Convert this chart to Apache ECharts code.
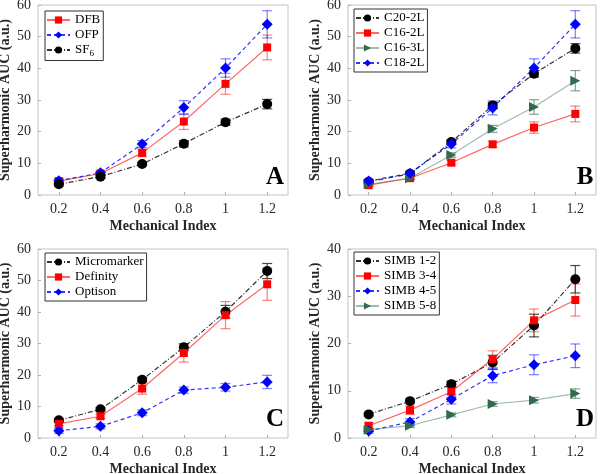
<!DOCTYPE html>
<html>
<head>
    <meta charset="utf-8">
    <title>Superharmonic AUC</title>
    <script src="https://cdn.jsdelivr.net/npm/echarts@6/dist/echarts.min.js"></script>
</head>
<body style="margin:0">
    <div id="main" style="width:600px;height:474px;"></div>
    <script type="text/javascript">
        // data
        var mi = [0.2, 0.4, 0.6, 0.8, 1.0, 1.2];
        var xTicks = [0.2, 0.4, 0.6, 0.8, 1.0, 1.2];

        // panel A
        var dfb = [4.4, 6.8, 13.3, 23.2, 35.1, 46.6];
        var dfbErr = [0.7, 0.6, 1.2, 2.5, 3.3, 3.9];
        var ofp = [4.5, 7.0, 16.1, 27.6, 40.1, 53.9];
        var ofpErr = [0.6, 0.6, 1.1, 2.2, 2.9, 4.3];
        var sf6 = [3.4, 5.8, 9.8, 16.2, 23.0, 28.7];
        var sf6Err = [0.5, 0.5, 0.5, 1.0, 1.0, 1.5];

        // panel B
        var c202l = [4.2, 6.7, 16.7, 28.3, 38.3, 46.3];
        var c202lErr = [0.5, 0.5, 0.6, 0.9, 1.0, 1.5];
        var c162l = [3.1, 5.3, 10.2, 16.0, 21.3, 25.6];
        var c162lErr = [0.4, 0.4, 0.7, 0.9, 1.8, 2.5];
        var c163l = [3.4, 5.3, 12.6, 20.9, 27.8, 36.1];
        var c163lErr = [0.4, 0.5, 0.7, 1.1, 2.3, 3.2];
        var c182l = [4.4, 6.9, 16.1, 27.5, 40.1, 53.9];
        var c182lErr = [0.6, 0.6, 1.2, 2.2, 2.9, 4.3];

        // panel C
        var micro = [5.6, 9.1, 18.5, 28.8, 40.1, 53.0];
        var microErr = [0.5, 0.5, 0.7, 1.1, 2.0, 2.4];
        var defin = [4.5, 6.9, 15.7, 27.0, 39.0, 48.8];
        var definErr = [0.6, 0.7, 1.8, 2.9, 4.3, 5.1];
        var optis = [2.3, 3.7, 8.0, 15.2, 16.1, 17.8];
        var optisErr = [0.8, 0.8, 0.9, 1.0, 1.2, 2.1];

        // panel D
        var simb12 = [5.0, 7.8, 11.4, 16.0, 23.8, 33.6];
        var simb12Err = [0.3, 0.4, 0.6, 1.5, 2.4, 2.9];
        var simb34 = [2.6, 5.9, 9.8, 16.7, 24.9, 29.2];
        var simb34Err = [0.6, 0.9, 1.2, 1.75, 2.4, 3.4];
        var simb45 = [1.5, 3.4, 8.2, 13.2, 15.5, 17.4];
        var simb45Err = [0.5, 0.7, 1.0, 1.5, 2.1, 2.5];
        var simb58 = [1.75, 2.6, 4.9, 7.2, 8.0, 9.4];
        var simb58Err = [0.3, 0.4, 0.4, 0.5, 0.6, 1.0];

        var serif = "'Liberation Serif', serif";
        var RED = '#ff0000', BLUE = '#0000ff', BLACK = '#000000', GREEN = '#2f6b4c';
        var DASHDOT = [5, 2, 1, 2];

        // series styles
        var sty = {
            red:   {color: RED, symbol: 'rect', size: 8, dash: 'solid', lineOp: 0.6, errOp: 0.5},
            blue:  {color: BLUE, symbol: 'diamond', size: 11, dash: [4, 3], lineOp: 0.8, errOp: 0.5},
            black: {color: BLACK, symbol: 'circle', size: 10, dash: DASHDOT, lineOp: 0.8, errOp: 0.7},
            green: {color: GREEN, symbol: 'triangle', size: 10, dash: 'solid', lineOp: 0.45, errOp: 0.6}
        };

        var panels = [
            {letter: 'A', grid: {left: 38, right: 312, top: 5, bottom: 279}, ymax: 60,
             legend: {left: 45, top: 11}, lx: 275, ly: 178,
             lines: [['DFB', dfb, dfbErr, 'red'], ['OFP', ofp, ofpErr, 'blue'], ['SF6', sf6, sf6Err, 'black']]},
            {letter: 'B', grid: {left: 348, right: 4, top: 5, bottom: 279}, ymax: 60,
             legend: {left: 354, top: 9}, lx: 585, ly: 178,
             lines: [['C20-2L', c202l, c202lErr, 'black'], ['C16-2L', c162l, c162lErr, 'red'],
                     ['C16-3L', c163l, c163lErr, 'green'], ['C18-2L', c182l, c182lErr, 'blue']]},
            {letter: 'C', grid: {left: 38, right: 312, top: 249, bottom: 36}, ymax: 60,
             legend: {left: 45, top: 253}, lx: 275, ly: 420,
             lines: [['Micromarker', micro, microErr, 'black'], ['Definity', defin, definErr, 'red'],
                     ['Optison', optis, optisErr, 'blue']]},
            {letter: 'D', grid: {left: 348, right: 4, top: 249, bottom: 36}, ymax: 40,
             legend: {left: 354, top: 252}, lx: 585, ly: 420,
             lines: [['SIMB 1-2', simb12, simb12Err, 'black'], ['SIMB 3-4', simb34, simb34Err, 'red'],
                     ['SIMB 4-5', simb45, simb45Err, 'blue'], ['SIMB 5-8', simb58, simb58Err, 'green']]}
        ];

        var grids = [], xAxes = [], yAxes = [], legends = [], series = [], graphics = [];

        panels.forEach(function (p, i) {
            grids.push(Object.assign({show: true, borderColor: '#c4c4c4', borderWidth: 1,
                                      backgroundColor: '#fff', containLabel: false,
                                      outerBoundsMode: 'none'}, p.grid));
            xAxes.push({
                type: 'value', gridIndex: i, min: 0.1, max: 1.3,
                name: 'Mechanical Index', nameLocation: 'middle', nameGap: 24,
                nameTextStyle: {fontFamily: serif, fontWeight: 'bold', fontSize: 14, color: '#262626'},
                axisLine: {show: false},
                axisTick: {show: true, inside: true, length: 3, customValues: xTicks,
                           lineStyle: {color: '#b0b0b0'}},
                splitLine: {show: false},
                axisLabel: {customValues: xTicks, fontFamily: serif, fontSize: 14, color: '#262626', margin: 7,
                            formatter: function (v) { return String(+v.toFixed(1)); }}
            });
            yAxes.push({
                type: 'value', gridIndex: i, min: 0, max: p.ymax, interval: 10,
                name: 'Superharmonic AUC (a.u.)', nameLocation: 'middle', nameGap: 26,
                nameTextStyle: {fontFamily: serif, fontWeight: 'bold', fontSize: 14, color: '#262626'},
                axisLine: {show: false},
                axisTick: {show: true, inside: true, length: 3, lineStyle: {color: '#b0b0b0'}},
                splitLine: {show: false},
                axisLabel: {fontFamily: serif, fontSize: 14, color: '#262626', margin: 7}
            });
            legends.push({
                left: p.legend.left, top: p.legend.top, orient: 'vertical',
                data: p.lines.map(function (l) { return l[0]; }),
                backgroundColor: '#fff', borderColor: '#333', borderWidth: 1,
                padding: [2, 3, 2, 1], itemGap: 1, itemWidth: 23, itemHeight: 9,
                selectedMode: false,
                textStyle: {fontFamily: serif, fontSize: 13, color: '#000', lineHeight: 14,
                            rich: {sub: {fontFamily: serif, fontSize: 9, padding: [8, 0, 0, 0]}}},
                formatter: function (name) { return name === 'SF6' ? 'SF{sub|6}' : name; }
            });
            p.lines.forEach(function (l) {
                var s = sty[l[3]];
                var pts = mi.map(function (x, k) { return [x, l[1][k]]; });
                var errPts = mi.map(function (x, k) { return [x, l[1][k], l[2][k]]; });
                series.push({
                    type: 'custom', name: l[0] + ' err', xAxisIndex: i, yAxisIndex: i,
                    data: errPts, silent: true, z: 2,
                    renderItem: function (params, api) {
                        var x = api.value(0), y = api.value(1), e = api.value(2);
                        var top = api.coord([x, y + e]), bot = api.coord([x, y - e]);
                        var w = 5;
                        var st = {stroke: s.color, lineWidth: 1.2, opacity: s.errOp};
                        return {type: 'group', children: [
                            {type: 'line', shape: {x1: top[0], y1: top[1], x2: bot[0], y2: bot[1]}, style: st},
                            {type: 'line', shape: {x1: top[0] - w, y1: top[1], x2: top[0] + w, y2: top[1]}, style: st},
                            {type: 'line', shape: {x1: bot[0] - w, y1: bot[1], x2: bot[0] + w, y2: bot[1]}, style: st}
                        ]};
                    }
                });
                series.push({
                    type: 'line', name: l[0], xAxisIndex: i, yAxisIndex: i, data: pts,
                    symbol: s.symbol, symbolSize: s.size, symbolRotate: s.symbol === 'triangle' ? -90 : 0,
                    showAllSymbol: true, z: 3,
                    itemStyle: {color: s.color, opacity: 1},
                    lineStyle: {color: s.color, width: 1.2, type: s.dash, opacity: s.lineOp}
                });
            });
            graphics.push({
                type: 'text', x: p.lx, y: p.ly, z: 10,
                style: {text: p.letter, font: 'bold 25px ' + serif, fill: '#000',
                        textAlign: 'center', textVerticalAlign: 'middle'}
            });
        });

        var echart = echarts.init(document.getElementById('main'));
        var option = {
            animation: false,
            backgroundColor: '#fff',
            grid: grids,
            xAxis: xAxes,
            yAxis: yAxes,
            legend: legends,
            series: series,
            graphic: graphics
        };
        echart.setOption(option);
    </script>
</body>
</html>
